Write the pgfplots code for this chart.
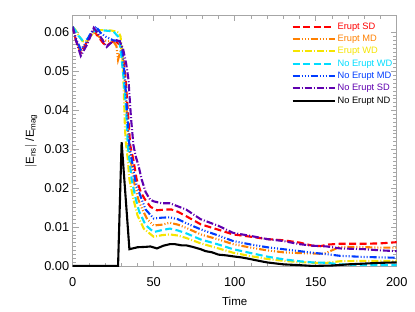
\documentclass[border=0pt]{standalone}
\usepackage{fontspec}
\setmainfont{Liberation Sans}
\usepackage{pgfplots}
\pgfplotsset{compat=1.18}
\definecolor{cRed}{RGB}{255,0,0}
\definecolor{cOrange}{RGB}{255,128,0}
\definecolor{cYellow}{RGB}{245,228,0}
\definecolor{cCyan}{RGB}{0,220,255}
\definecolor{cBlue}{RGB}{0,60,255}
\definecolor{cPurple}{RGB}{95,0,175}
\begin{document}
\begin{tikzpicture}
\begin{axis}[
  scale only axis, width=324pt, height=251.7pt,
  xmin=0, xmax=200, ymin=-0.0002, ymax=0.0645,
  xtick={0,50,...,200}, ytick={0,0.01,...,0.06},
  minor x tick num=4, minor y tick num=9,
  scaled y ticks=false,
  yticklabel style={/pgf/number format/.cd, fixed, fixed zerofill, precision=2},
  /pgf/number format/assume math mode=true,
  tick align=inside, major tick length=6pt, minor tick length=3.5pt,
  every tick/.style={gray!70, line width=0.5pt},
  axis line style={gray!70, line width=0.7pt},
  ticklabel style={font=\fontsize{12.8}{14}\selectfont},
  xticklabel style={yshift=-7pt},
  xlabel={Time}, ylabel={$|$E$_{\mathrm{ns}}|$ /E$_{\mathrm{mag}}$},
  label style={font=\fontsize{11.5}{13}\selectfont},
  xlabel style={yshift=-4pt},
  ylabel style={yshift=0pt},
  legend style={at={(0.666,0.985)}, anchor=north west, draw=none, fill=none,
    font=\fontsize{9.3}{10}\selectfont, row sep=0.8pt,
    nodes={inner sep=1.8pt}},
  legend cell align=left,
  legend image code/.code={\draw[#1] (0pt,0pt) -- (42pt,0pt);},
  every axis plot/.append style={line width=2.1pt},
]
\addplot[cRed, dash pattern=on 7pt off 3.5pt] coordinates {
(0,0.0615)(2,0.058)(5,0.0548)(8,0.0570)(11,0.0595)(13,0.0604)(16,0.0588)(19,0.0572)(21,0.0566)(24,0.0575)(26,0.0580)(28,0.0572)(29,0.0570)(31,0.054)(32.7,0.048)(34,0.040)(35.5,0.031)(37.4,0.0274)(39.5,0.0222)(42,0.019)(44.6,0.0171)(48,0.0152)(52,0.0143)(57,0.0145)(61,0.0145)(65,0.0139)(70,0.0128)(79,0.0107)(90,0.0093)(99,0.0081)(110,0.0075)(120,0.0069)(130,0.0066)(140,0.0060)(148,0.0052)(153,0.0051)(158,0.0055)(165,0.0057)(180,0.0057)(190,0.0058)(200,0.0061)};
\addlegendentry{\textcolor{cRed}{Erupt SD}}
\addplot[cOrange, dash pattern=on 7pt off 2pt on 1pt off 2pt on 1pt off 2pt on 1pt off 2pt] coordinates {
(0,0.0615)(2,0.058)(5,0.0552)(8,0.057)(11,0.0592)(13,0.0600)(16,0.0590)(19,0.0580)(22,0.0578)(25,0.0578)(27,0.0565)(28,0.053)(29,0.0545)(30,0.056)(31,0.053)(32,0.048)(33.3,0.040)(34.5,0.031)(35.8,0.0274)(37.5,0.0222)(40.5,0.0171)(43,0.0145)(46,0.0120)(50,0.0104)(55,0.0106)(60,0.0111)(65,0.0106)(70,0.0098)(79,0.0081)(90,0.0068)(99,0.0056)(110,0.0047)(120,0.0040)(130,0.0035)(140,0.0033)(148,0.0032)(155,0.0031)(160,0.0040)(165,0.0049)(175,0.0049)(190,0.0047)(200,0.0047)};
\addlegendentry{\textcolor{cOrange}{Erupt MD}}
\addplot[cYellow, dash pattern=on 7pt off 2pt on 1pt off 2pt] coordinates {
(0,0.0615)(2,0.0605)(3.5,0.0594)(6,0.0578)(8,0.0577)(11,0.0590)(13,0.0600)(16,0.0606)(20,0.0606)(24,0.0605)(27,0.0602)(28.5,0.060)(29.5,0.059)(30.3,0.056)(31.3,0.048)(32.3,0.035)(33,0.031)(34,0.0274)(35,0.0222)(37.5,0.0171)(40,0.0130)(44,0.0095)(50,0.0075)(55,0.0079)(60,0.0081)(65,0.0078)(70,0.0072)(79,0.0058)(90,0.0045)(99,0.0034)(110,0.0025)(120,0.0018)(130,0.0013)(140,0.0010)(148,0.0008)(157,0.0008)(165,0.0012)(180,0.0013)(190,0.0013)(200,0.0013)};
\addlegendentry{\textcolor{cYellow}{Erupt WD}}
\addplot[cCyan, dash pattern=on 7pt off 3.5pt] coordinates {
(0,0.0615)(2,0.0603)(3.5,0.0592)(6,0.0580)(8,0.0580)(11,0.0592)(13,0.0602)(15,0.0606)(20,0.0605)(25,0.0603)(28,0.0590)(29,0.0575)(30,0.054)(31.5,0.048)(33,0.040)(34,0.031)(35,0.0274)(36.4,0.0222)(39,0.0171)(41,0.0140)(45,0.0105)(50,0.0087)(55,0.0092)(60,0.0096)(65,0.0091)(70,0.0084)(79,0.0068)(90,0.0055)(99,0.0043)(110,0.0033)(120,0.0024)(130,0.0017)(140,0.0012)(148,0.0009)(157,0.0008)(165,0.0004)(180,0.0002)(190,0.0002)(200,0.0002)};
\addlegendentry{\textcolor{cCyan}{No Erupt WD}}
\addplot[cBlue, dash pattern=on 7pt off 2pt on 1pt off 2pt on 1pt off 2pt on 1pt off 2pt] coordinates {
(0,0.0615)(2,0.0585)(5,0.0556)(8,0.0572)(11,0.0598)(14.5,0.0615)(17,0.0600)(20,0.0590)(25,0.0580)(29,0.0578)(30.5,0.056)(32.3,0.048)(33.5,0.040)(35,0.031)(36.4,0.0274)(38.5,0.0222)(40,0.0200)(42.6,0.0171)(45,0.0145)(50,0.0122)(55,0.0124)(60,0.0125)(65,0.0120)(70,0.0110)(79,0.0094)(90,0.0078)(99,0.0064)(110,0.0055)(120,0.0048)(130,0.0043)(140,0.0038)(148,0.0034)(157,0.0030)(165,0.0026)(180,0.0023)(190,0.0022)(200,0.0021)};
\addlegendentry{\textcolor{cBlue}{No Erupt MD}}
\addplot[cPurple, dash pattern=on 7pt off 2pt on 1pt off 2pt] coordinates {
(0,0.0615)(2,0.058)(5,0.0540)(9,0.0570)(13,0.0612)(17,0.0590)(21,0.0563)(24,0.0575)(27,0.0580)(29,0.0578)(31,0.056)(33,0.052)(34.4,0.048)(36,0.038)(37.5,0.031)(39,0.028)(40.5,0.0260)(42.6,0.0222)(45,0.0190)(47.7,0.0171)(50,0.0166)(55,0.0161)(60,0.0161)(65,0.0153)(70,0.0145)(79,0.0120)(90,0.0103)(99,0.0085)(110,0.0077)(120,0.0069)(130,0.0064)(140,0.0056)(148,0.0052)(157,0.0050)(165,0.0045)(180,0.0043)(190,0.0040)(200,0.0038)};
\addlegendentry{\textcolor{cPurple}{No Erupt SD}}
\addplot[black, solid] coordinates {
(0,0)(28,0)(30.2,0.0318)(35,0.0043)(40,0.0048)(45,0.0049)(48,0.0050)(52,0.0045)(56,0.0052)(60,0.0056)(63,0.0056)(67,0.0053)(70,0.0053)(74,0.0049)(79,0.0043)(82,0.0038)(86,0.0035)(90,0.0029)(95,0.0027)(100,0.0024)(104,0.0022)(108,0.0019)(115,0.0013)(120,0.0009)(130,0.0004)(140,0.0002)(148,0.0)(160,0.0001)(170,0.0004)(180,0.0006)(190,0.0008)(200,0.0009)};
\addlegendentry{No Erupt ND}
\end{axis}
\pgfresetboundingbox
\path ([shift={(-72.7pt,-44.3pt)}]current axis.south west) rectangle ([shift={(18.3pt,15pt)}]current axis.north east);
\end{tikzpicture}
\end{document}
